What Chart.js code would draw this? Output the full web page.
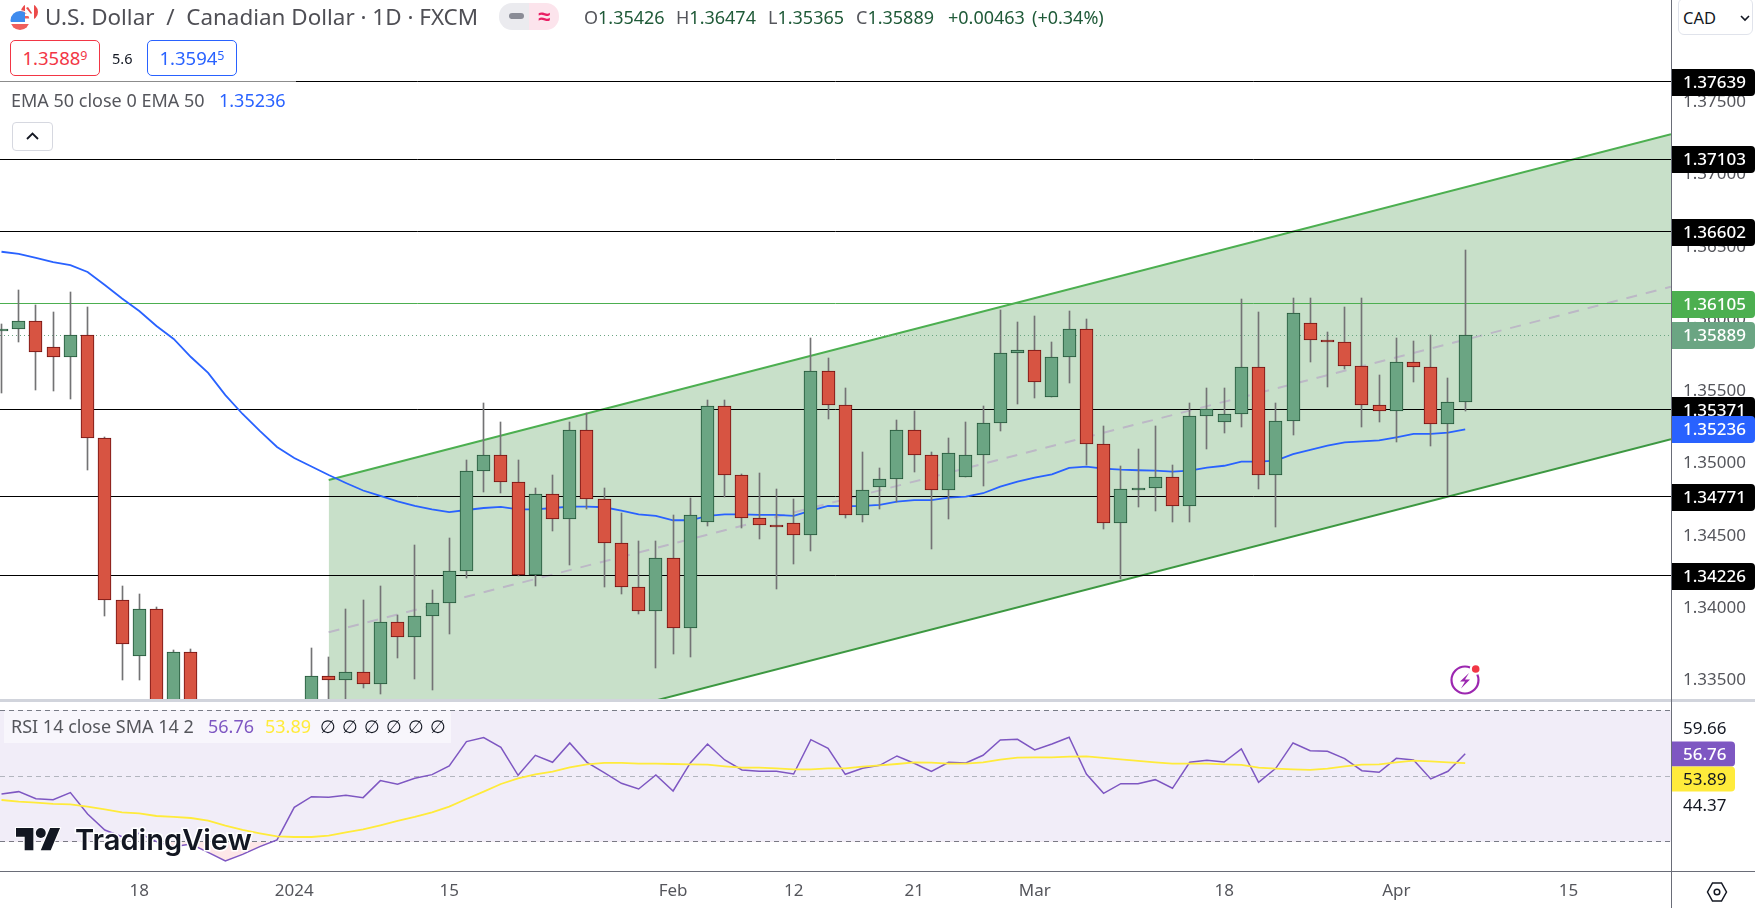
<!DOCTYPE html>
<html>
<head>
<meta charset="utf-8">
<title>USD/CAD daily</title>
<script src="https://cdn.jsdelivr.net/npm/chart.js@4/dist/chart.umd.min.js"></script>
<style>
  html, body { margin: 0; padding: 0; background: #fff; }
  body { width: 1755px; height: 908px; position: relative; overflow: hidden; font-family: "Noto Sans", sans-serif; }
  canvas { position: absolute; left: 0; display: block; }
  #mainChart { top: 0; }
  #rsiChart { top: 701px; }
  .abs { position: absolute; white-space: nowrap; }
  .sep { position: absolute; left: 0; width: 1755px; height: 3px; top: 699px; background: #d1d4dc; }
  .vline { position: absolute; left: 1671px; top: 0; width: 1px; height: 908px; background: #6a6d78; }
  .hline { position: absolute; left: 0; top: 871px; width: 1755px; height: 1px; background: #6a6d78; }
  .title { left: 45px; top: 2px; font-size: 22.45px; line-height: 30px; color: #4f4f55; }
  .pill-l { left: 499px; top: 3px; width: 30px; height: 27px; background: #ebebef; border-radius: 13px 0 0 13px; }
  .pill-r { left: 529px; top: 3px; width: 30px; height: 27px; background: #fce4ec; border-radius: 0 13px 13px 0; color: #e91e63; font-size: 22px; line-height: 25px; text-align: center; font-weight: 700; }
  .pill-dash { left: 509px; top: 13px; width: 15px; height: 6px; background: #8a8c96; border-radius: 3px; }
  .ohlc { top: 5px; font-size: 18px; line-height: 24px; color: #1f5a38; }
  .ohlc b { font-weight: 400; color: #55565c; }
  .quote { top: 40px; width: 88px; height: 34px; border-radius: 5px; border: 1px solid; text-align: center; font-size: 18.5px; line-height: 34px; background: #fff; }
  .quote sup { font-size: 12.5px; line-height: 0; vertical-align: 5px; }
  .spread { left: 112px; top: 48px; font-size: 14.5px; line-height: 20px; color: #131722; }
  .legend-bg { left: 0; top: 79px; width: 296px; height: 40px; background: rgba(255,255,255,.55); }
  .legend { left: 11px; top: 88px; font-size: 18px; line-height: 24px; color: #55565c; }
  .fold { left: 12px; top: 122px; width: 41px; height: 29px; box-sizing: border-box; border: 1px solid #d6d8e0; border-radius: 4px; background: #fff; }
  .cad { left: 1678px; top: -2px; width: 75px; height: 37px; box-sizing: border-box; border: 1px solid #e0e3eb; border-radius: 6px; background: #fff; color: #131722; font-size: 16.5px; line-height: 37px; padding-left: 4px; }
  .rsi-bg { left: 4px; top: 711px; width: 447px; height: 32px; background: rgba(255,255,255,.5); }
  .rsi-legend { top: 714px; font-size: 18px; line-height: 24px; color: #55565c; }
</style>
</head>
<body>
<canvas id="mainChart" width="1755" height="699"></canvas>
<canvas id="rsiChart" width="1755" height="207"></canvas>
<div class="sep"></div>
<div class="vline"></div>
<div class="hline"></div>

<svg class="abs" style="left:0;top:0" width="44" height="36" viewBox="0 0 44 36">
  <clipPath id="caClip"><circle cx="29.5" cy="12" r="8.5"/></clipPath>
  <circle cx="29.5" cy="12" r="8.5" fill="#fff"/>
  <g clip-path="url(#caClip)">
    <rect x="34" y="2" width="6" height="20" fill="#eb4a4a"/>
    <rect x="20" y="2" width="5" height="20" fill="#eb4a4a"/>
    <path d="M26 8l5 6 1-1-4-6z" fill="#eb4a4a"/>
  </g>
  <clipPath id="usClip"><circle cx="20" cy="20.5" r="9.5"/></clipPath>
  <circle cx="20" cy="20.5" r="10.5" fill="#fff"/>
  <g clip-path="url(#usClip)">
    <rect x="10" y="11" width="20" height="20" fill="#fff"/>
    <rect x="10" y="24" width="20" height="3" fill="#f0605c"/>
    <rect x="10" y="27" width="20" height="4" fill="#f0605c"/>
    <rect x="20" y="11" width="10" height="2.5" fill="#f0605c"/>
    <rect x="20" y="16" width="10" height="2.5" fill="#f0605c"/>
    <rect x="10" y="11" width="15" height="11" fill="#3f8cee"/>
  </g>
</svg>
<div class="abs title">U.S. Dollar&nbsp; /&nbsp; Canadian Dollar · 1D · FXCM</div>
<div class="abs pill-l"></div><div class="abs pill-r">≈</div><div class="abs pill-dash"></div>
<div class="abs ohlc" style="left:584px"><b>O</b>1.35426</div>
<div class="abs ohlc" style="left:676px"><b>H</b>1.36474</div>
<div class="abs ohlc" style="left:768px"><b>L</b>1.35365</div>
<div class="abs ohlc" style="left:856px"><b>C</b>1.35889</div>
<div class="abs ohlc" style="left:948px">+0.00463</div>
<div class="abs ohlc" style="left:1032px">(+0.34%)</div>
<div class="abs quote" style="left:10px;color:#f23645;border-color:#f23645">1.3588<sup>9</sup></div>
<div class="abs spread">5.6</div>
<div class="abs quote" style="left:147px;color:#2962ff;border-color:#2962ff">1.3594<sup>5</sup></div>
<div class="abs legend-bg"></div>
<div class="abs legend">EMA 50 close 0 EMA 50</div>
<div class="abs legend" style="left:219px;color:#2962ff">1.35236</div>
<div class="abs fold">
  <svg width="39" height="27" viewBox="0 0 39 27"><path d="M14 16l5.500-5.500 5.500 5.500" fill="none" stroke="#131722" stroke-width="1.800"/></svg>
</div>
<div class="abs cad">CAD
  <svg style="position:absolute;left:60px;top:14px" width="12" height="10" viewBox="0 0 12 10"><path d="M2 3l4 4 4-4" fill="none" stroke="#131722" stroke-width="1.600"/></svg>
</div>

<svg class="abs" style="left:1445px;top:660px" width="40" height="38" viewBox="0 0 40 38">
  <circle cx="20" cy="20" r="13.500" fill="none" stroke="#9c27b0" stroke-width="2.200"/>
  <circle cx="30.700" cy="9" r="6" fill="#fff"/>
  <circle cx="30.700" cy="9" r="3.800" fill="#f23645"/>
  <path d="M24 13l-9 8.500h5l-4 7 9-9h-5z" fill="#9c27b0"/>
</svg>

<div class="abs rsi-bg"></div>
<div class="abs rsi-legend" style="left:11px">RSI 14 close SMA 14 2</div>
<div class="abs rsi-legend" style="left:208px;color:#7e57c2">56.76</div>
<div class="abs rsi-legend" style="left:265px;color:#ffeb3b">53.89</div>
<div class="abs rsi-legend" style="left:320px;color:#131722;word-spacing:1.3px">∅ ∅ ∅ ∅ ∅ ∅</div>

<svg class="abs" style="left:10px;top:820px" width="250" height="42" viewBox="0 0 250 42">
  <g transform="translate(6,3) scale(1.240)" fill="#131722" stroke="#fff" stroke-width="1.500" paint-order="stroke">
    <path d="M14 22H7V11H0V4h14v18zM28 22h-8l7.500-18h8L28 22z"/><circle cx="20" cy="8" r="4"/>
  </g>
  <text x="65" y="30" font-family="Inter" font-weight="600" font-size="29" textLength="177" lengthAdjust="spacingAndGlyphs" fill="#131722" stroke="#fff" stroke-width="3" paint-order="stroke">TradingView</text>
</svg>

<div class="abs" style="left:1706px;top:881px;width:22px;height:22px">
  <svg width="22" height="22" viewBox="0 0 22 22"><path d="M6.500 2h9l5 9-5 9h-9l-5-9z" fill="none" stroke="#131722" stroke-width="1.500"/><circle cx="11" cy="11" r="2.800" fill="none" stroke="#131722" stroke-width="1.500"/></svg>
</div>

<script>
const openPrices = [
    1.35919, 1.35929, 1.35984, 1.35804, 1.35735, 1.35887, 1.35175, 1.34055, 1.33667, 1.33992,
    1.33050, 1.33695, 1.33200, 1.33000, 1.32800, 1.32600, 1.32500, 1.32650, 1.32900, 1.33529,
    1.33501, 1.33557, 1.33474, 1.33903, 1.33799, 1.33944, 1.34034, 1.34255, 1.34947, 1.35057,
    1.34871, 1.34228, 1.34788, 1.34615, 1.35230, 1.34753, 1.34449, 1.34145, 1.33979, 1.34345,
    1.33861, 1.34594, 1.35396, 1.34919, 1.34622, 1.34573, 1.34587, 1.34504, 1.35638, 1.35403,
    1.34642, 1.34836, 1.34891, 1.35230, 1.35057, 1.34815, 1.34905, 1.35057, 1.35279, 1.35763,
    1.35784, 1.35459, 1.35735, 1.35929, 1.35134, 1.34587, 1.34815, 1.34829, 1.34905, 1.34705,
    1.35327, 1.35286, 1.35341, 1.35666, 1.34919, 1.35293, 1.35970, 1.35853, 1.35839, 1.35673,
    1.35403, 1.35362, 1.35701, 1.35666, 1.35272, 1.35426
];
const highPrices = [
    1.35965, 1.36201, 1.36097, 1.36048, 1.36187, 1.36083, 1.35184, 1.34154, 1.34098, 1.34008,
    1.33711, 1.33718, 1.33300, 1.33200, 1.33000, 1.32900, 1.32750, 1.33100, 1.33725, 1.33663,
    1.33994, 1.34057, 1.34154, 1.33953, 1.34437, 1.34126, 1.34486, 1.35025, 1.35419, 1.35288,
    1.35025, 1.34831, 1.34921, 1.35288, 1.35348, 1.34831, 1.34658, 1.34465, 1.34465, 1.34645,
    1.34762, 1.35440, 1.35440, 1.34928, 1.34935, 1.34824, 1.34755, 1.35869, 1.35730, 1.35523,
    1.35080, 1.34970, 1.35302, 1.35364, 1.35080, 1.35177, 1.35288, 1.35398, 1.36062, 1.35979,
    1.36021, 1.35841, 1.36055, 1.36000, 1.35260, 1.34983, 1.35101, 1.35260, 1.34990, 1.35419,
    1.35523, 1.35523, 1.36138, 1.36048, 1.35419, 1.36145, 1.36145, 1.35910, 1.36083, 1.36145,
    1.35613, 1.35869, 1.35848, 1.35887, 1.35592, 1.36474
];
const lowPrices = [
    1.35490, 1.35843, 1.35511, 1.35504, 1.35449, 1.34958, 1.33948, 1.33506, 1.33506, 1.32950,
    1.32980, 1.33000, 1.32900, 1.32700, 1.32500, 1.32300, 1.32300, 1.32400, 1.32700, 1.33200,
    1.33200, 1.33450, 1.33409, 1.33658, 1.33512, 1.33436, 1.33824, 1.34211, 1.34806, 1.34799,
    1.34223, 1.34156, 1.34536, 1.34299, 1.34688, 1.34149, 1.34100, 1.33962, 1.33589, 1.33685,
    1.33665, 1.34569, 1.34771, 1.34557, 1.34481, 1.34135, 1.34308, 1.34398, 1.35311, 1.34626,
    1.34598, 1.34688, 1.34732, 1.34944, 1.34412, 1.34619, 1.34905, 1.34847, 1.35226, 1.35414,
    1.35456, 1.35459, 1.35557, 1.34990, 1.34550, 1.34202, 1.34702, 1.34674, 1.34598, 1.34598,
    1.35103, 1.35214, 1.35255, 1.34826, 1.34564, 1.35200, 1.35705, 1.35532, 1.35654, 1.35255,
    1.35290, 1.35151, 1.35566, 1.35124, 1.34781, 1.35365
];
const closePrices = [
    1.35929, 1.35984, 1.35770, 1.35735, 1.35887, 1.35175, 1.34055, 1.33750, 1.33992, 1.33050,
    1.33695, 1.33200, 1.33000, 1.32800, 1.32600, 1.32500, 1.32650, 1.32900, 1.33529, 1.33501,
    1.33557, 1.33474, 1.33903, 1.33799, 1.33944, 1.34034, 1.34255, 1.34947, 1.35057, 1.34871,
    1.34228, 1.34788, 1.34615, 1.35230, 1.34753, 1.34449, 1.34145, 1.33979, 1.34345, 1.33861,
    1.34642, 1.35396, 1.34919, 1.34622, 1.34573, 1.34571, 1.34504, 1.35638, 1.35403, 1.34642,
    1.34815, 1.34891, 1.35230, 1.35057, 1.34815, 1.35071, 1.35057, 1.35279, 1.35763, 1.35784,
    1.35562, 1.35735, 1.35929, 1.35134, 1.34587, 1.34822, 1.34829, 1.34905, 1.34705, 1.35327,
    1.35376, 1.35341, 1.35666, 1.34919, 1.35293, 1.36039, 1.35853, 1.35839, 1.35673, 1.35403,
    1.35362, 1.35701, 1.35666, 1.35272, 1.35426, 1.35889
];
const emaValues = [
    1.36465, 1.36450, 1.36422, 1.36394, 1.36373, 1.36325, 1.36235, 1.36142, 1.36055, 1.35952,
    1.35862, 1.35737, 1.35627, 1.35474, 1.35343, 1.35226, 1.35115, 1.35039, 1.34980, 1.34921,
    1.34866, 1.34814, 1.34776, 1.34738, 1.34707, 1.34684, 1.34665, 1.34679, 1.34693, 1.34700,
    1.34684, 1.34684, 1.34693, 1.34702, 1.34702, 1.34698, 1.34674, 1.34649, 1.34638, 1.34608,
    1.34608, 1.34638, 1.34649, 1.34649, 1.34645, 1.34645, 1.34638, 1.34674, 1.34707, 1.34705,
    1.34707, 1.34714, 1.34737, 1.34748, 1.34748, 1.34764, 1.34771, 1.34795, 1.34840, 1.34875,
    1.34903, 1.34926, 1.34970, 1.34979, 1.34965, 1.34958, 1.34954, 1.34951, 1.34944, 1.34951,
    1.34972, 1.34985, 1.35013, 1.35013, 1.35020, 1.35066, 1.35094, 1.35124, 1.35147, 1.35154,
    1.35161, 1.35182, 1.35205, 1.35205, 1.35214, 1.35236
];
const rsiValues = [
    44.53, 45.24, 43.11, 42.81, 44.94, 38.44, 33.57, 31.54, 32.56, 30.02,
    28.50, 29.31, 26.77, 24.13, 26.16, 28.50, 30.53, 40.47, 43.72, 43.52,
    44.13, 43.41, 48.59, 47.47, 49.30, 50.42, 53.05, 60.46, 61.68, 58.74,
    50.21, 56.30, 54.17, 60.06, 54.17, 51.02, 47.78, 46.05, 50.31, 45.44,
    53.97, 59.75, 54.88, 51.84, 51.43, 51.43, 50.62, 61.07, 58.43, 50.52,
    52.34, 53.26, 56.10, 53.87, 51.43, 54.17, 53.97, 56.30, 60.97, 61.17,
    57.92, 59.75, 61.78, 50.62, 44.73, 47.68, 47.68, 48.89, 46.26, 54.17,
    54.78, 54.27, 58.23, 48.08, 52.34, 60.06, 57.72, 57.52, 55.29, 51.63,
    51.13, 55.39, 54.88, 49.10, 51.43, 56.76
];
const rsiSmaValues = [
    42.70, 42.20, 41.89, 41.49, 41.38, 40.67, 39.86, 38.95, 38.65, 37.83,
    37.53, 37.22, 36.41, 34.89, 33.57, 32.56, 31.64, 31.44, 31.44, 31.85,
    32.86, 33.77, 34.99, 36.31, 37.53, 38.95, 40.67, 43.01, 45.24, 47.57,
    49.30, 50.52, 51.33, 52.65, 53.56, 53.97, 53.97, 53.76, 53.76, 53.66,
    53.56, 53.46, 52.95, 52.55, 52.55, 52.34, 52.04, 52.04, 52.34, 52.34,
    52.85, 53.26, 53.66, 54.17, 54.07, 53.76, 53.76, 54.17, 54.98, 55.59,
    55.69, 55.69, 55.90, 56.00, 55.49, 55.08, 54.58, 54.17, 53.76, 53.76,
    53.76, 53.56, 53.36, 52.55, 52.24, 52.04, 51.84, 52.24, 52.95, 53.46,
    53.56, 54.17, 54.68, 54.47, 54.17, 53.89
];

// Horizontal support / resistance levels
const blackLevels = [1.37639, 1.37103, 1.36602, 1.35371, 1.34771, 1.34226];
const greenLevel = 1.36105;
const lastClose = 1.35889;
const lastEma = 1.35236;

// Rising channel, two anchors per edge: first candle index and right edge of the pane
const channelIdx = [19, 96.95];
const channelUpper = [1.34887, 1.37277];
const channelMid = [1.33834, 1.36223];
const channelLower = [1.32780, 1.35168];

const priceTicks = [1.375, 1.37, 1.365, 1.36, 1.355, 1.35, 1.345, 1.34, 1.335];
const timeTickIdx = [8, 17, 26, 39, 46, 53, 60, 71, 81, 91];
const timeTickLabels = ['18', '2024', '15', 'Feb', '12', '21', 'Mar', '18', 'Apr', '15'];

const rsiBands = [70, 50, 30];
const rsiTags = [59.66, 56.76, 53.89, 44.37];

const idxMin = -0.087, idxMax = 96.95;
const FONT = '"Noto Sans", sans-serif';
const GREEN_BODY = '#6ba583', GREEN_EDGE = '#225437';
const RED_BODY = '#d75442', RED_EDGE = '#6f1010';

const isUp = i => closePrices[i] >= openPrices[i];
const indices = openPrices.map((_, i) => i);
const flat = v => [{ x: idxMin, y: v }, { x: idxMax, y: v }];
const anchors = ys => channelIdx.map((x, i) => ({ x, y: ys[i] }));
const lineBase = { type: 'line', pointRadius: 0, tension: 0, fill: false };

// Chart.js positions bars on fractional pixels, nudge them (and flat lines) onto the grid
const snapPlugin = {
    id: 'snap',
    afterDatasetsUpdate(chart) {
        chart.data.datasets.forEach((ds, d) => {
            const meta = chart.getDatasetMeta(d);
            if (meta.type === 'bar') {
                meta.data.forEach(el => {
                    el.x = Math.floor(el.x) + 0.5;
                    el.width = ds.barThickness;
                    el.y = Math.round(el.y);
                    el.base = Math.round(el.base);
                    if (Math.abs(el.base - el.y) < 2 && ds.barThickness > 1) el.base = el.y + 2;
                });
            } else if (ds.snapY) {
                meta.data.forEach(el => { el.y = Math.floor(el.y) + 0.5; });
            }
        });
    }
};

function drawTag(ctx, x, y, w, h, bg, fg, text) {
    if (bg) {
        ctx.fillStyle = bg;
        ctx.beginPath();
        ctx.roundRect(x, y - h / 2, w, h, [0, 4, 4, 0]);
        ctx.fill();
    }
    ctx.fillStyle = fg;
    ctx.font = (fg === '#fff' ? '500 ' : '') + '17px ' + FONT;
    ctx.textAlign = 'left';
    ctx.textBaseline = 'middle';
    ctx.fillText(text, x + 12, y + 1);
}

// Value tags sitting on the price axis
const priceTagPlugin = {
    id: 'priceTags',
    afterDraw(chart) {
        const { ctx, chartArea } = chart;
        const scale = chart.scales.y;
        const tag = (v, bg) => drawTag(ctx, chartArea.right, Math.round(scale.getPixelForValue(v)) + 0.5, 84, 27, bg, '#fff', v.toFixed(5));
        blackLevels.forEach(v => tag(v, '#000'));
        tag(greenLevel, '#4caf50');
        tag(lastClose, GREEN_BODY);
        tag(lastEma, '#2962ff');
    }
};

// RSI tags are stacked around the RSI value, so the outer ones do not sit on their own level
const rsiTagPlugin = {
    id: 'rsiTags',
    afterDraw(chart) {
        const { ctx, chartArea } = chart;
        const y = chart.scales.y.getPixelForValue(rsiTags[1]);
        const styles = [[-26, null, '#131722'], [0, '#7e57c2', '#fff'], [25, '#ffeb3b', '#131722'], [51, null, '#131722']];
        rsiTags.forEach((v, i) => {
            const [dy, bg, fg] = styles[i];
            drawTag(ctx, chartArea.right, Math.round(y + dy), 64, 25, bg, fg, v.toFixed(2));
        });
    }
};

// fixed axis width and no label overhang, so the plot fills the pane edge to edge
const fitPriceAxis = s => { s.width = 84; s.paddingTop = 0; s.paddingBottom = 0; };
const baseOptions = {
    responsive: false,
    animation: false,
    events: [],
    layout: { padding: 0 },
    plugins: { legend: { display: false }, tooltip: { enabled: false } }
};

new Chart(document.getElementById('mainChart'), {
    type: 'bar',
    data: {
        datasets: [
            { ...lineBase, order: 6, data: anchors(channelUpper), borderColor: '#4caf50', borderWidth: 2, backgroundColor: 'rgba(56,142,60,0.28)', fill: '+1' },
            { ...lineBase, order: 7, data: anchors(channelLower), borderColor: '#3e9a43', borderWidth: 2 },
            { ...lineBase, order: 5, data: anchors(channelMid), borderColor: '#bcb8c6', borderWidth: 2, borderDash: [11, 9] },
            ...blackLevels.map(v => ({ ...lineBase, order: 4, snapY: true, data: flat(v), borderColor: '#000', borderWidth: 1 })),
            { ...lineBase, order: 4, snapY: true, data: flat(greenLevel), borderColor: '#4caf50', borderWidth: 1 },
            { ...lineBase, order: 3, snapY: true, data: flat(lastClose), borderColor: GREEN_BODY, borderWidth: 1, borderDash: [1, 3] },
            { ...lineBase, order: 2, data: indices.map(i => ({ x: i, y: emaValues[i] })), borderColor: '#2962ff', borderWidth: 1.8 },
            {
                order: 1, grouped: false, barThickness: 1, backgroundColor: '#737375',
                data: indices.map(i => ({ x: i, y: [lowPrices[i], highPrices[i]] }))
            },
            {
                order: 0, grouped: false, barThickness: 13, borderWidth: 1, borderSkipped: false,
                backgroundColor: indices.map(i => isUp(i) ? GREEN_BODY : RED_BODY),
                borderColor: indices.map(i => isUp(i) ? GREEN_EDGE : RED_EDGE),
                data: indices.map(i => ({ x: i, y: [openPrices[i], closePrices[i]] }))
            }
        ]
    },
    options: {
        ...baseOptions,
        scales: {
            x: { type: 'linear', display: false, offset: false, min: idxMin, max: idxMax },
            y: {
                type: 'linear', position: 'right', min: 1.33372, max: 1.38206,
                grid: { display: false, drawTicks: false }, border: { display: false },
                afterFit: fitPriceAxis,
                afterBuildTicks: s => { s.ticks = priceTicks.map(value => ({ value })); },
                ticks: { autoSkip: false, padding: 12, color: '#55565c', font: { family: FONT, size: 17 }, callback: v => v.toFixed(5) }
            }
        }
    },
    plugins: [snapPlugin, priceTagPlugin]
});

new Chart(document.getElementById('rsiChart'), {
    type: 'line',
    data: {
        datasets: [
            { ...lineBase, order: 5, data: flat(rsiBands[0]), borderWidth: 0, backgroundColor: 'rgba(126,87,194,0.11)', fill: '+1' },
            { ...lineBase, order: 5, data: flat(rsiBands[2]), borderWidth: 0 },
            { ...lineBase, order: 4, snapY: true, data: flat(rsiBands[0]), borderColor: '#787b86', borderWidth: 1, borderDash: [5, 4] },
            { ...lineBase, order: 4, snapY: true, data: flat(rsiBands[1]), borderColor: '#b2b5be', borderWidth: 1, borderDash: [5, 4] },
            { ...lineBase, order: 4, snapY: true, data: flat(rsiBands[2]), borderColor: '#787b86', borderWidth: 1, borderDash: [5, 4] },
            {
                ...lineBase, order: 2, borderColor: '#7e57c2', borderWidth: 1.5,
                fill: { target: { value: 30 }, above: 'rgba(0,0,0,0)', below: 'rgba(242,54,69,0.12)' },
                data: indices.map(i => ({ x: i, y: rsiValues[i] }))
            },
            { ...lineBase, order: 1, borderColor: '#ffeb3b', borderWidth: 1.8, data: indices.map(i => ({ x: i, y: rsiSmaValues[i] })) }
        ]
    },
    options: {
        ...baseOptions,
        scales: {
            x: {
                type: 'linear', min: idxMin, max: idxMax, offset: false,
                grid: { display: false, drawTicks: false }, border: { display: false },
                afterFit: s => { s.height = 36; s.paddingLeft = 0; s.paddingRight = 0; },
                afterBuildTicks: s => { s.ticks = timeTickIdx.map(value => ({ value })); },
                ticks: {
                    autoSkip: false, maxRotation: 0, padding: 9, color: '#55565c',
                    font: { family: FONT, size: 17 },
                    callback: v => timeTickLabels[timeTickIdx.indexOf(v)]
                }
            },
            y: {
                type: 'linear', position: 'right', min: 20.78, max: 72.83,
                grid: { display: false, drawTicks: false }, border: { display: false },
                afterFit: fitPriceAxis,
                ticks: { display: false }
            }
        }
    },
    plugins: [snapPlugin, rsiTagPlugin]
});
</script>
</body>
</html>
